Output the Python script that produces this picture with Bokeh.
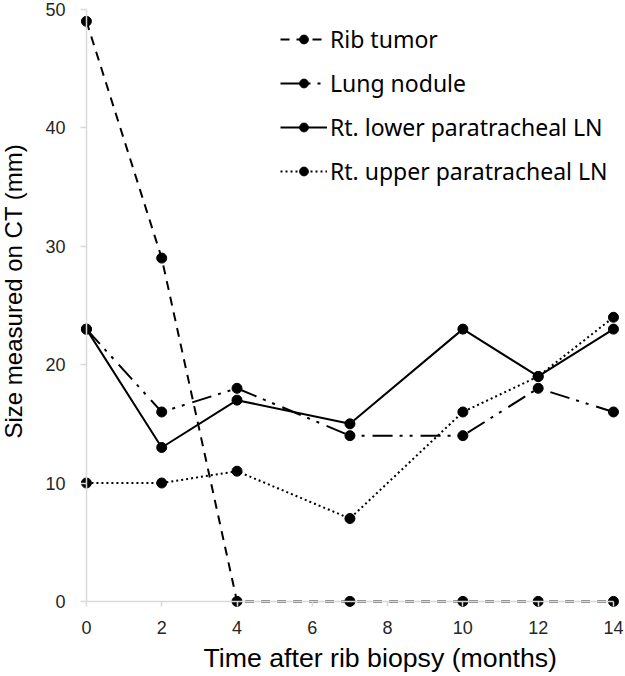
from bokeh.plotting import figure
from bokeh.models import Range1d, FixedTicker, Title, LinearAxis, CustomJSTickFormatter
from bokeh.embed import file_html
from bokeh.resources import INLINE

# ---- data ----
months = [0, 2, 4, 7, 10, 12, 14]
rib_tumor = [49, 29, 0, 0, 0, 0, 0]
lung_nodule = [23, 16, 18, 14, 14, 18, 16]
rt_lower_ln = [23, 13, 17, 15, 23, 19, 23]
rt_upper_ln = [10, 10, 11, 7, 16, 19, 24]
series_names = ["Rib tumor", "Lung nodule", "Rt. lower paratracheal LN", "Rt. upper paratracheal LN"]
x_ticks = [0, 2, 4, 6, 8, 10, 12, 14]
y_ticks = [0, 10, 20, 30, 40, 50]

p = figure(width=624, height=676, output_backend="svg", toolbar_location=None,
           x_range=Range1d(-0.29, 14.24), y_range=Range1d(-0.6, 50.59),
           min_border_left=75, min_border_right=2, min_border_top=2, min_border_bottom=68,
           styles={"position": "absolute", "top": "0px", "left": "0px"})
p.outline_line_color = None
p.grid.visible = False

series = [rib_tumor, lung_nodule, rt_lower_ln, rt_upper_ln]
dashes = ["9 7", "20 7 3 7 3 8", "solid", "2 3"]
for vals, name, dash in zip(series, series_names, dashes):
    p.line(months, vals, line_color="black", line_width=2, line_dash=dash, legend_label=name)
    p.scatter(months, vals, size=10, marker="circle", fill_color="black", line_color="black",
              legend_label=name)

axis_gray = "#d9d9d9"

# label-only axes at the frame edges
for ax in (p.xaxis[0], p.yaxis[0]):
    ax.axis_line_color = None
    ax.major_tick_line_color = None
    ax.minor_tick_line_color = None
    ax.major_tick_out = 0
    ax.major_tick_in = 0
    ax.major_label_text_font = "Liberation Sans"
    ax.major_label_text_font_size = "18px"
    ax.major_label_text_color = "#262626"
p.xaxis.ticker = FixedTicker(ticks=x_ticks)
p.yaxis.ticker = FixedTicker(ticks=y_ticks)
p.xaxis.major_label_standoff = 12
p.yaxis.major_label_standoff = 10

# axis lines crossing at zero
blank = CustomJSTickFormatter(code="return ''")
xline = LinearAxis(fixed_location=0, ticker=FixedTicker(ticks=x_ticks), bounds=(0, 14),
                   formatter=blank, axis_line_color=axis_gray, axis_line_width=1.5,
                   major_tick_line_color=axis_gray, major_tick_line_width=1.5,
                   major_tick_out=5, major_tick_in=0, minor_tick_line_color=None)
yline = LinearAxis(fixed_location=0, ticker=FixedTicker(ticks=y_ticks), bounds=(0, 50),
                   formatter=blank, axis_line_color=axis_gray, axis_line_width=1.5,
                   major_tick_line_color=axis_gray, major_tick_line_width=1.5,
                   major_tick_out=6, major_tick_in=0, minor_tick_line_color=None)
p.add_layout(xline, "below")
p.add_layout(yline, "left")

xt = Title(text="Time after rib biopsy (months)", text_font="Liberation Sans", text_font_size="26.7px",
           text_font_style="normal", text_color="black", align="left", offset=128, standoff=8)
p.add_layout(xt, "below")
yt = Title(text="Size measured on CT (mm)", text_font="Liberation Sans", text_font_size="24px",
           text_font_style="normal", text_color="black", align="left", offset=170, standoff=0,
           padding=dict(left=0, right=0, top=0, bottom=16))
p.add_layout(yt, "left")

lg = p.legend[0]
lg.location = (205, 421)
lg.border_line_color = None
lg.background_fill_alpha = 0
lg.padding = 0
lg.margin = 0
lg.spacing = 12
lg.glyph_width = 47
lg.glyph_height = 22
lg.label_height = 22
lg.label_standoff = 3
lg.label_text_font = "Noto Sans"
lg.label_text_font_size = "23px"
lg.label_text_color = "black"

open("out.html", "w").write(file_html(p, INLINE))
